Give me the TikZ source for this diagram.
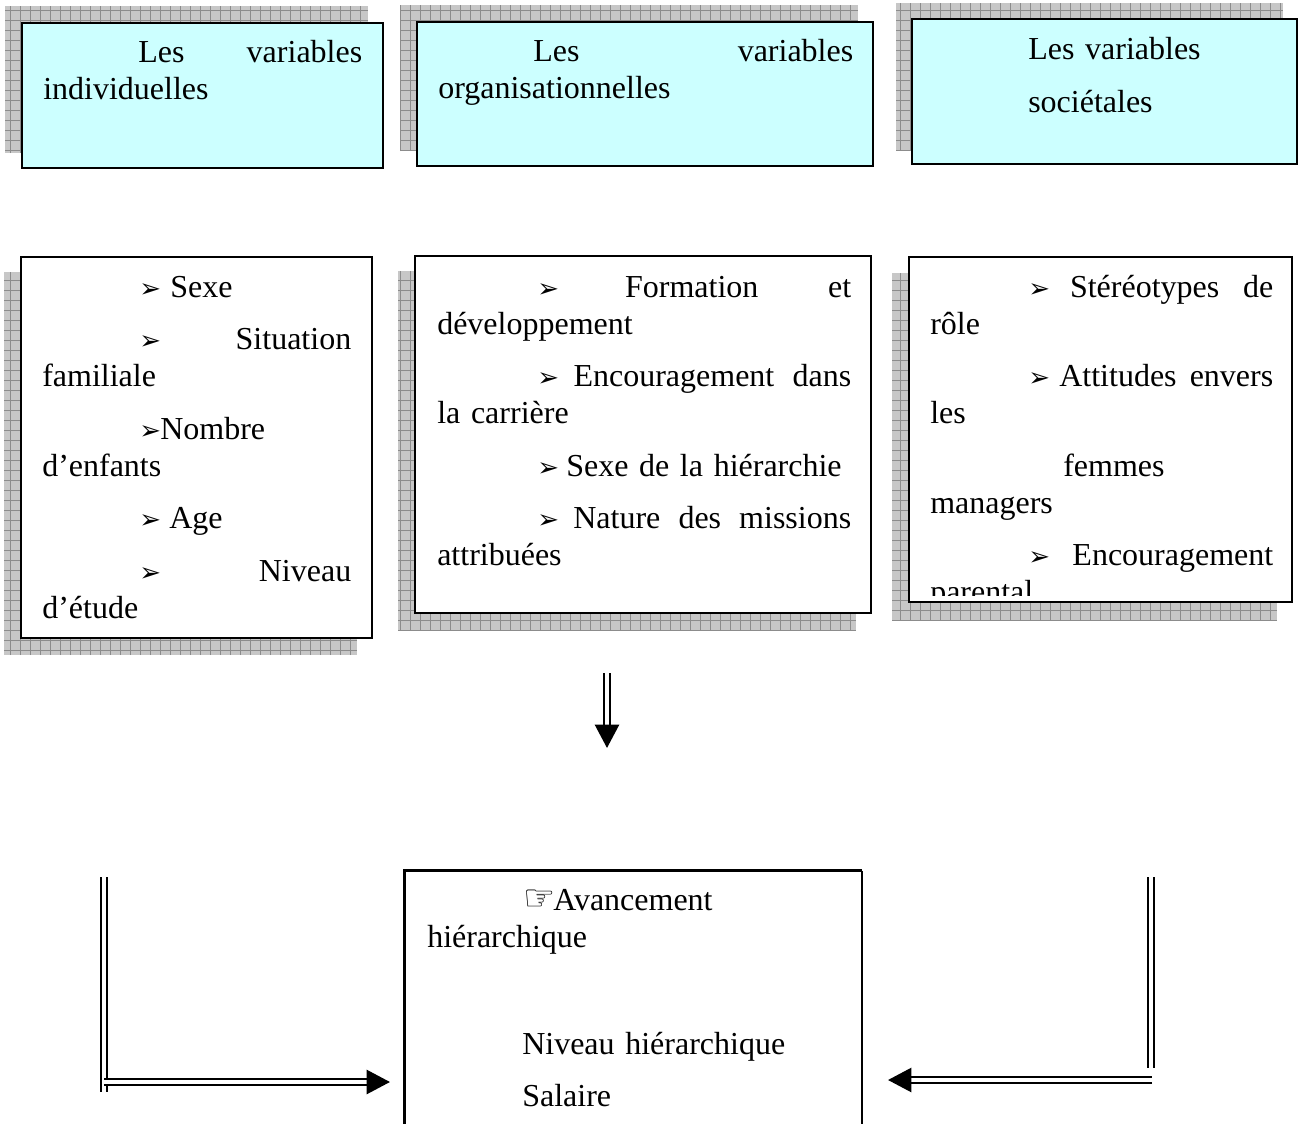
\documentclass[tikz,border=0pt]{standalone}
\usepackage{fontspec}
\setmainfont{Liberation Serif}
\newfontfamily\symb{DejaVu Sans}
\usetikzlibrary{arrows.meta,fit,backgrounds}
\definecolor{cyanpale}{HTML}{CCFFFF}
\newlength{\px}\setlength{\px}{0.75pt}
\newlength{\pg}\setlength{\pg}{15.5\px}
\newcommand{\fl}{\makebox[18\px][l]{\symb\fontsize{19.5}{19.5}\selectfont ➢}}
\newcommand{\main}{\makebox[30\px][l]{\symb\fontsize{27}{27}\selectfont ☞}}
\tikzset{
	boite/.style={draw, line width=1.5pt, inner sep=0pt},
	texte/.style={anchor=base west, inner sep=0pt, align=left, font=\fontsize{24}{27.75}\selectfont},
}

\begin{document}
\begin{tikzpicture}[
	x=0.75pt, y=-0.75pt,
	titre/.style={boite, fill=cyanpale},
	liste/.style={boite, fill=white},
	ombre/.style={fill=black!22},
	trame/.style={draw=black!45, line width=0.6pt},
	dbl/.style={draw, double, line width=1.9pt, double distance=2.3pt},
	fleche/.style={dbl, -{Triangle[length=17.5pt,width=18pt]}},
	]
	\useasboundingbox (0,0) rectangle (1300,1124);

	%titres
	\node[titre, fit={(22,23) (383,168)}] (t1) {};
	\node[titre, fit={(417,22) (873,166)}] (t2) {};
	\node[titre, fit={(912,19) (1297,164)}] (t3) {};
	\node[texte, text width=319\px] (t1t) at (43,63) {\hspace*{95\px}Les\hspace{\fill}variables\\
		individuelles};
	\node[texte, text width=415\px] (t2t) at (438,62) {\hspace*{95\px}Les\hspace{\fill}variables\\
		organisationnelles};
	\node[texte, text width=340\px] (t3t) at (933,60) {\hspace*{95\px}Les variables\\[16\px]
		\hspace*{95\px}sociétales};

	%listes
	\node[liste, fit={(21,257) (372,638)}] (m1) {};
	\node[liste, fit={(415,256) (871,613)}] (m2) {};
	\node[liste, fit={(909,257) (1292,602)}] (m3) {};
	\node[texte, text width=309\px] (m1t) at (42,297) {\hspace*{97\px}\fl\hspace{13\px}Sexe\\[\pg]
		\hspace*{97\px}\fl\hspace{\fill}Situation\\
		familiale\\[\pg]
		\hspace*{97\px}\fl\hspace{3\px}Nombre\\
		d’enfants\\[\pg]
		\hspace*{97\px}\fl\hspace{12\px}Age\\[\pg]
		\hspace*{97\px}\fl\hspace{\fill}Niveau\\
		d’étude};
	\node[texte, text width=414\px] (m2t) at (437,297) {\hspace*{100\px}\fl\hspace{\fill}Formation\hspace{\fill}et\\
		développement\\[\pg]
		\hspace*{100\px}\fl\hspace{\fill}Encouragement\hspace{\fill}dans\\
		la carrière\\[\pg]
		\hspace*{100\px}\fl\hspace{11\px}Sexe de la hiérarchie\\[\pg]
		\hspace*{100\px}\fl\hspace{\fill}Nature\hspace{\fill}des\hspace{\fill}missions\\
		attribuées};
	\begin{scope}
		\clip (m3.north west) rectangle ([yshift=6pt]m3.south east);
		\node[texte, text width=343\px] (m3t) at (930,297) {\hspace*{98\px}\fl\hspace{\fill}Stéréotypes\hspace{\fill}de\\
			rôle\\[\pg]
			\hspace*{98\px}\fl\hspace{\fill}Attitudes\hspace{\fill}envers\\
			les\\[\pg]
			\hspace*{133\px}femmes\\
			managers\\[\pg]
			\hspace*{98\px}\fl\hspace{\fill}Encouragement\\
			parental};
	\end{scope}

	%resultat
	\node[inner sep=0pt, fit={(405,871) (862,1130)}] (r) {};
	\draw[line width=2.25pt] (r.south west) -- (r.north west) -- (r.north east);
	\draw[line width=1.6pt] (r.north east) -- (r.south east);
	\node[texte, text width=420\px] (rt) at (427,910) {\hspace*{96\px}\main Avancement\\
		hiérarchique\\[70\px]
		\hspace*{95\px}Niveau hiérarchique\\[\pg]
		\hspace*{95\px}Salaire};

	%ombres
	\begin{pgfonlayer}{background}
		\foreach \b/\dx/\dy in {t1/-16/-16, t2/-16/-16, t3/-15/-15, m1/-16/16, m2/-16/16, m3/-16/17}{
			\begin{scope}
				\path ([shift={(\dx,\dy)}]\b.north west) coordinate (o1)
					([shift={(\dx,\dy)}]\b.south east) coordinate (o2);
				\clip (o1) rectangle (o2);
				\fill[ombre] (o1) rectangle (o2);
				\draw[trame, step=7.5pt] (o1) grid (o2);
			\end{scope}
		}
	\end{pgfonlayer}

	%fleches
	\coordinate (h1) at (607,673);
	\coordinate (h2) at (607,748);
	\coordinate (g1) at (104,877);
	\coordinate (g2) at (104,1092);
	\coordinate (g3) at (104,1082);
	\coordinate (g4) at (390,1082);
	\coordinate (d1) at (1151,877);
	\coordinate (d2) at (1151,1068);
	\coordinate (d3) at (1152,1080);
	\coordinate (d4) at (888,1080);
	\draw[fleche] (h1) -- (h2);
	\draw[dbl] (g1) -- (g2);
	\draw[fleche] (g3) -- (g4);
	\draw[dbl] (d1) -- (d2);
	\draw[fleche] (d3) -- (d4);

\end{tikzpicture}
\end{document}
